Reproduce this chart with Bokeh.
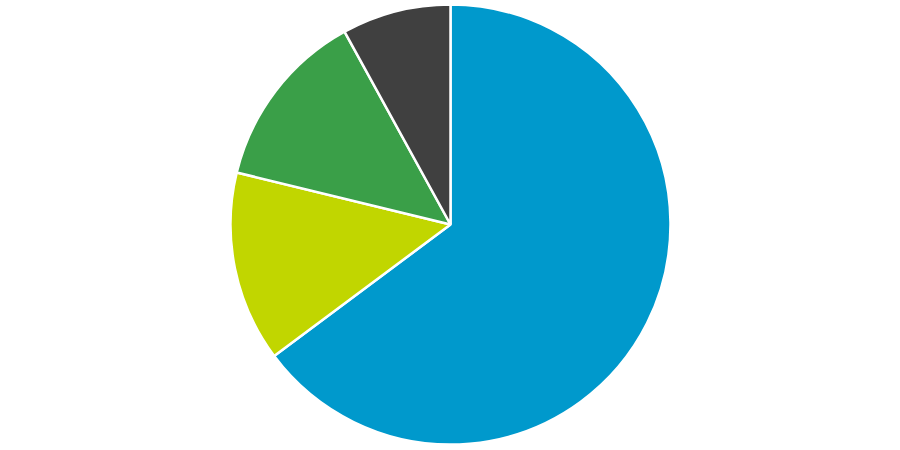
import math
from bokeh.plotting import figure
from bokeh.models import ColumnDataSource
from bokeh.embed import file_html
from bokeh.resources import INLINE

categories = ["A", "B", "C", "D"]
values = [64.8, 14.0, 13.2, 8.0]
colors = ["#0099CC", "#C1D600", "#3A9F48", "#404040"]

total = sum(values)
starts, ends = [], []
acc = 0.0
for v in values:
    # clockwise from 12 o'clock
    a0 = math.pi / 2 - 2 * math.pi * acc / total
    acc += v
    a1 = math.pi / 2 - 2 * math.pi * acc / total
    starts.append(a1)
    ends.append(a0)

src = ColumnDataSource(dict(cat=categories, val=values, start=starts, end=ends, color=colors))

W, H = 900, 450
p = figure(width=W, height=H, x_range=(0, W), y_range=(0, H),
           output_backend="svg", toolbar_location=None, min_border=0)
p.axis.visible = False
p.grid.visible = False
p.outline_line_color = None
p.background_fill_color = "white"
p.border_fill_color = "white"

p.wedge(x=450, y=226, radius=220, start_angle="start", end_angle="end",
        fill_color="color", line_color="white", line_width=2.5, source=src)

open("out.html", "w").write(file_html(p, INLINE))
